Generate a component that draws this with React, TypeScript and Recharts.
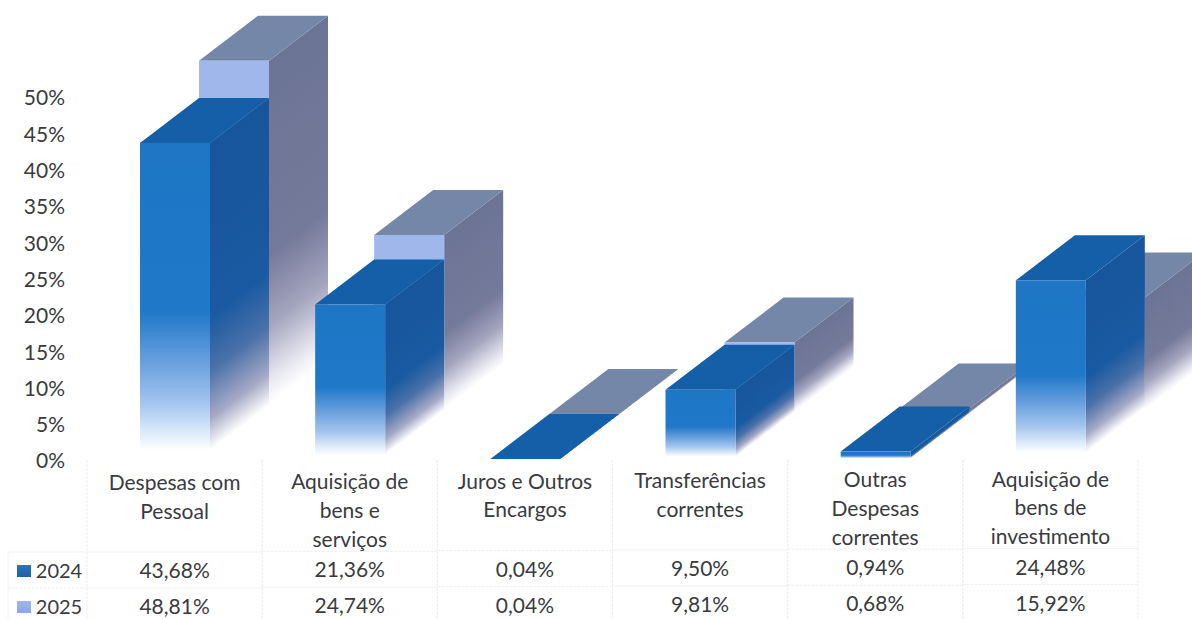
import { BarChart, Bar, XAxis, YAxis } from 'recharts';

const categoryLines = [
  ['Despesas com', 'Pessoal'],
  ['Aquisição de', 'bens e', 'serviços'],
  ['Juros e Outros', 'Encargos'],
  ['Transferências', 'correntes'],
  ['Outras', 'Despesas', 'correntes'],
  ['Aquisição de', 'bens de', 'investimento'],
];
const values2024 = [43.68, 21.36, 0.04, 9.5, 0.94, 24.48];
const values2025 = [48.81, 24.74, 0.04, 9.81, 0.68, 15.92];
const yTicks = [0, 5, 10, 15, 20, 25, 30, 35, 40, 45, 50];

const data = categoryLines.map((lines, i) => ({
  name: lines.join(' '),
  v2024: values2024[i],
  v2025: values2025[i],
}));

const FONT = 'Lato, sans-serif';
const TEXT = '#3a3b40';
const GRID = '#eeeef6';
const BAND = 175.2;
const DX = 59;
const DY = -45;

const fmt = (v: number) => v.toFixed(2).replace('.', ',') + '%';

const PALETTE: Record<string, any> = {
  v2024: {
    top: '#155fa8',
    front: [[0, '#1e76c5'], [0.53, '#1f78c8'], [0.66, '#5b97d9'], [0.82, '#a3c4ee'], [0.91, '#dbe9fa'], [0.97, '#ffffff'], [1, '#ffffff']],
    side: [[0, '#17559c'], [0.55, '#1a5aa2'], [0.72, '#4a71a9'], [0.87, '#a6a9c6'], [0.97, '#ffffff'], [1, '#ffffff']],
  },
  v2025: {
    top: '#7587a9',
    front: [[0, '#a0b7ec'], [0.6, '#a0b7ec'], [1, '#ffffff']],
    side: [[0, '#6c7495'], [0.55, '#747a99'], [0.75, '#a5a5bf'], [0.9, '#e6e6f0'], [0.97, '#ffffff'], [1, '#ffffff']],
  },
};

function Box3D(props: any) {
  const { x, y, width, height, index, series } = props;
  const shift = series === 'v2025';
  // the scanned original leans slightly upward to the right
  const lean = -index * 0.4;
  const left = x + (shift ? DX : 0);
  const top = y + (shift ? DY : 0) + lean;
  const base = top + height;
  const right = left + width;
  const colors = PALETTE[series];
  const k = DY / DX;
  const frontId = `front-${series}-${index}`;
  const sideId = `side-${series}-${index}`;
  const stops = (list: any[]) =>
    list.map(([o, c]) => <stop key={o} offset={o} stopColor={c} />);
  return (
    <g>
      <defs>
        <linearGradient id={frontId} gradientUnits="userSpaceOnUse" x1={left} y1={top} x2={left} y2={base}>
          {stops(colors.front)}
        </linearGradient>
        <linearGradient
          id={sideId}
          gradientUnits="userSpaceOnUse"
          x1={right}
          y1={top}
          x2={right}
          y2={base}
          gradientTransform={`matrix(1 ${k} 0 1 0 ${-k * right})`}
        >
          {stops(colors.side)}
        </linearGradient>
      </defs>
      <polygon
        points={`${right},${top} ${right + DX},${top + DY} ${right + DX},${base + DY} ${right},${base}`}
        fill={`url(#${sideId})`}
      />
      <polygon
        points={`${left},${top} ${left + DX},${top + DY} ${right + DX},${top + DY} ${right},${top}`}
        fill={colors.top}
      />
      <rect x={left} y={top} width={width} height={height} fill={`url(#${frontId})`} />
    </g>
  );
}

// x axis tick draws one column of the data table under the plot
function TableTick(props: any) {
  const { x, index } = props;
  const tilt = -index * 0.7;
  const lines = categoryLines[index];
  const left = x - BAND / 2;
  const textProps = { fontFamily: FONT, fontSize: 21, fill: TEXT, textAnchor: 'middle' as const, dominantBaseline: 'central' as const };
  return (
    <g>
      <line x1={left} x2={left} y1={460} y2={619} stroke={GRID} strokeDasharray="3 1" />
      <line x1={left + BAND} x2={left + BAND} y1={460} y2={619} stroke={GRID} strokeDasharray="3 1" />
      <line x1={left} x2={left + BAND} y1={552 + tilt} y2={552 + tilt} stroke={GRID} strokeDasharray="3 1" />
      <line x1={left} x2={left + BAND} y1={588 + tilt} y2={588 + tilt} stroke={GRID} strokeDasharray="3 1" />
      {lines.map((line, i) => (
        <text key={line} x={x} y={481.5 + tilt + i * 28.7} {...textProps}>
          {line}
        </text>
      ))}
      <text x={x} y={569.5 + tilt} {...textProps}>{fmt(values2024[index])}</text>
      <text x={x} y={605.5 + tilt} {...textProps}>{fmt(values2025[index])}</text>
      {index === 0 && (
        <g>
          <line x1={8} x2={left} y1={552} y2={552} stroke={GRID} strokeDasharray="3 1" />
          <line x1={8} x2={left} y1={588} y2={588} stroke={GRID} strokeDasharray="3 1" />
          <line x1={8} x2={8} y1={552} y2={619} stroke={GRID} strokeDasharray="3 1" />
          <rect x={17} y={565} width={14} height={12} fill="url(#key2024)" />
          <rect x={17} y={601} width={14} height={12} fill="url(#key2025)" />
          <text x={59} y={569.5} {...textProps} fontSize={20}>2024</text>
          <text x={59} y={605.5} {...textProps} fontSize={20}>2025</text>
        </g>
      )}
    </g>
  );
}

export default function App() {
  return (
    <div style={{ position: 'absolute', left: 0, top: 0, width: 1192, height: 619, overflow: 'hidden', background: '#fff' }}>
      <BarChart
        width={1192}
        height={619}
        data={data}
        barSize={70}
        barGap={-70}
        margin={{ top: 97, right: 54, bottom: 0, left: 0 }}
      >
        <defs>
          <linearGradient id="key2024" x1="0" y1="0" x2="0" y2="1">
            <stop offset="0" stopColor="#1f78c8" />
            <stop offset="1" stopColor="#2a5f9f" />
          </linearGradient>
          <linearGradient id="key2025" x1="0" y1="0" x2="0" y2="1">
            <stop offset="0" stopColor="#a0b7ec" />
            <stop offset="1" stopColor="#8aa6e2" />
          </linearGradient>
        </defs>
        <XAxis
          dataKey="name"
          height={159}
          interval={0}
          axisLine={false}
          tickLine={false}
          tick={<TableTick />}
        />
        <YAxis
          width={87}
          domain={[0, 50]}
          ticks={yTicks}
          interval={0}
          axisLine={false}
          tickLine={false}
          tickMargin={22}
          tickFormatter={(v: number) => `${v}%`}
          tick={{ fontFamily: FONT, fontSize: 21, fill: TEXT, dx: 6, dy: 1 }}
        />
        <Bar
          dataKey="v2025"
          isAnimationActive={false}
          shape={(p: any) => <Box3D {...p} series="v2025" />}
        />
        <Bar
          dataKey="v2024"
          isAnimationActive={false}
          shape={(p: any) => <Box3D {...p} series="v2024" />}
        />
      </BarChart>
    </div>
  );
}
